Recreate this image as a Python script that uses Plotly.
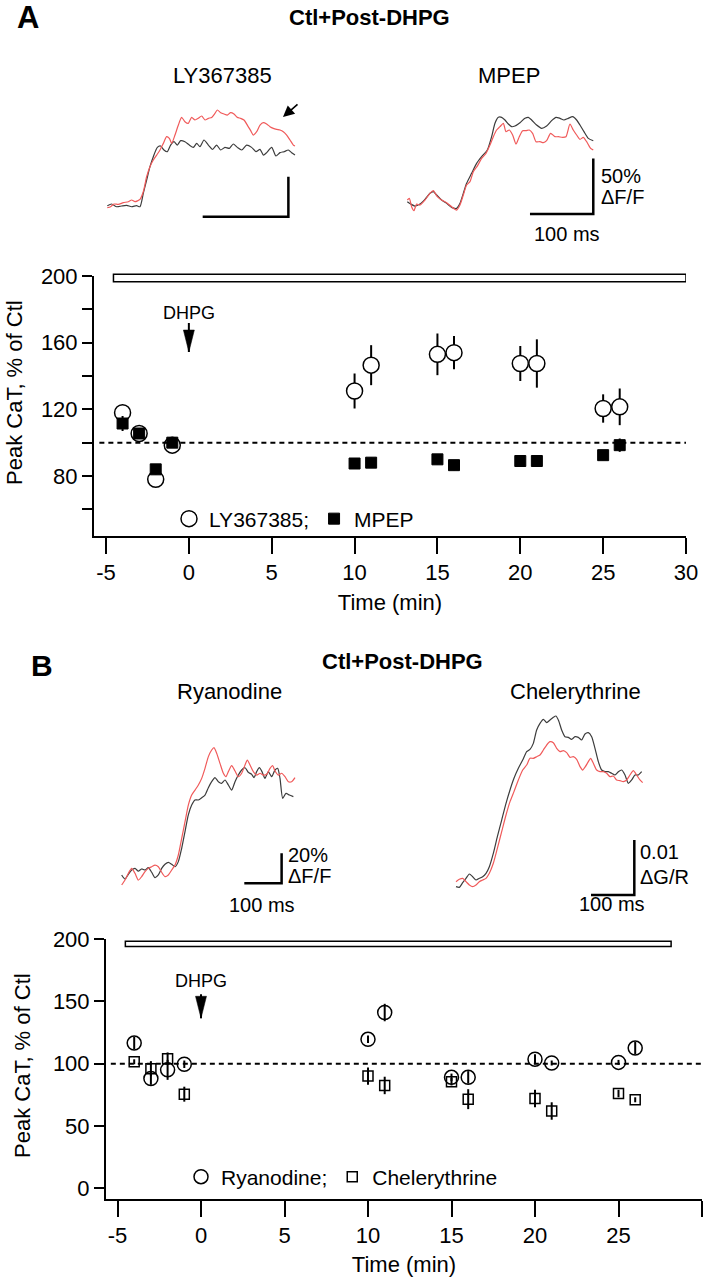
import plotly.graph_objects as go

W, H = 713, 1280
FONT = "Liberation Sans, Arial, sans-serif"

# ---------------- Panel A: summary (peak CaT, % of Ctl) ----------------
time_min = [-4, -3, -2, -1, 10, 11, 15, 16, 20, 21, 25, 26]
ly_mean = [118, 105.5, 78, 98.5, 131, 146.5, 153, 154, 147.5, 147.5, 120.5, 121.5]
ly_sem = [3, 3, 3, 3, 10.5, 12, 12.5, 10, 10.5, 14.5, 8.5, 11]
mpep_mean = [111.5, 105.5, 84, 100, 87.5, 88, 90, 86.5, 89, 89, 92.5, 98.5]
mpep_sem = [4.5, 2, 3, 3, 3, 3, 3, 3, 3, 3, 3, 4]

# ---------------- Panel B: summary ----------------
ry_mean = [116.5, 88, 95, 99.5, 119.5, 141, 89, 89, 103.5, 100.5, 101, 112.5]
ry_sem = [5, 5, 8, 3, 3, 7, 3, 5, 4, 2, 2, 5]
ch_mean = [101.5, 96, 104, 75.5, 90, 82.5, 85.5, 71.5, 72, 62, 76, 71]
ch_sem = [2, 6, 5, 6, 7, 7, 3, 8, 7, 7, 3, 2]

dhpg_time = 0
barA = [-4.55, 30.0, 196.5, 201.0]   # drug bar: t start, t end, low, high
barB = [-4.53, 28.15, 194.0, 198.1]

# ---------------- Example traces (time in ms) ----------------
ly_t_ctl = [0, 5.1, 10.9, 16.7, 22.6, 28.4, 34.2, 38.1, 42.0, 45.9, 49.8, 53.7, 58.4, 62.2, 66.1, 70.0,
            73.9, 77.8, 81.7, 85.6, 90.6, 95.7, 100.4, 104.3, 108.1, 112.8, 117.9, 122.9, 127.6, 132.3, 137.3, 142.4,
            147.0, 151.7, 156.8, 162.6, 168.4, 173.5, 178.2, 182.1, 185.9, 191.8, 196.8, 201.5, 206.2, 211.2, 215.1, 219.0]
ly_ctl = [0, 2.1, -1.3, -0.4, 0.4, -1.3, 0, -1.3, 15.4, 32.1, 48.8, 61.3, 72.9, 74.6, 69.6, 67.5,
          75.8, 80.0, 75.8, 81.3, 80.0, 75.8, 72.9, 77.9, 73.8, 82.1, 75.8, 70.4, 75.8, 69.6, 72.9, 71.7,
          77.1, 72.9, 69.6, 75.8, 72.9, 67.5, 70.4, 63.3, 66.3, 72.9, 62.1, 66.3, 67.5, 69.6, 66.3, 63.3]
ly_t_post = [0, 3.9, 7.8, 12.8, 18.7, 24.5, 28.4, 32.3, 38.1, 42.0, 45.9, 49.8, 53.7, 57.6, 61.5, 65.4,
             69.2, 72.4, 75.1, 79.0, 82.9, 86.7, 90.6, 94.5, 98.4, 102.3, 106.2, 110.1, 114.0, 117.9, 121.8, 125.6,
             128.4, 132.3, 136.2, 140.0, 143.9, 147.8, 151.7, 155.6, 159.5, 163.4, 167.3, 170.4, 174.3, 178.2, 182.1, 185.9,
             189.8, 193.7, 197.6, 201.5, 205.4, 209.3, 213.2, 217.1, 219.0]
ly_post = [-2.5, -1.3, 2.1, 1.7, 3.8, 5.0, 7.1, 5.0, 7.9, 17.5, 36.3, 48.8, 57.1, 63.3, 69.6, 77.9,
           86.3, 84.2, 77.9, 88.3, 100.8, 110.4, 105.0, 102.9, 110.4, 107.1, 109.2, 112.1, 107.1, 109.2, 110.4, 115.4,
           119.6, 116.3, 114.6, 113.3, 116.3, 114.6, 110.4, 109.2, 107.1, 100.8, 93.8, 88.3, 92.5, 100.8, 103.8, 102.1,
           98.8, 96.7, 95.4, 94.6, 92.5, 88.3, 82.1, 75.8, 74.6]

mp_t_ctl = [0, 5.3, 12.1, 20.0, 27.9, 35.8, 41.1, 46.3, 54.2, 62.1, 70.0, 77.9, 83.2, 88.5, 93.7, 101.6,
            109.5, 117.4, 126.4, 133.2, 138.5, 143.8, 149.0, 154.3, 159.6, 164.8, 170.1, 178.0, 185.9, 191.2, 196.4, 204.3,
            212.2, 220.1, 228.0, 234.9, 241.2, 247.5, 254.3, 261.2, 267.5, 272.8, 279.1, 286.0, 293.8]
mp_ctl = [4.5, 2.4, 0.6, 2.4, 6.6, 12.0, 13.5, 10.5, 6.0, 3.0, -0.6, -1.5, 3.0, 12.0, 21.0, 30.0,
          38.9, 44.9, 50.9, 62.9, 74.9, 80.3, 80.3, 77.9, 74.3, 71.9, 72.5, 75.5, 79.4, 80.3, 77.9, 73.4,
          70.4, 72.5, 77.3, 80.3, 79.4, 77.9, 79.4, 80.9, 77.9, 73.4, 67.4, 61.4, 59.3]
mp_t_post = [0, 3.2, 6.8, 10.5, 14.7, 20.0, 27.9, 35.8, 41.1, 47.4, 54.2, 62.1, 70.0, 77.9, 83.2, 88.5,
             93.7, 99.0, 104.3, 110.6, 117.4, 124.3, 130.6, 135.9, 141.1, 146.4, 151.7, 155.9, 161.1, 166.4, 171.7, 176.9,
             182.2, 187.5, 192.7, 198.0, 203.3, 209.6, 214.9, 220.1, 226.4, 233.3, 238.5, 245.4, 250.7, 257.0, 262.2, 267.5,
             272.8, 278.0, 283.3, 289.6, 293.8]
mp_post = [6.0, 7.5, 0, -3.6, 2.4, 1.5, 6.0, 12.0, 14.4, 9.0, 6.0, 3.6, 0, -3.0, 1.5, 10.5,
           19.5, 22.5, 31.4, 36.5, 43.4, 47.9, 55.4, 62.9, 68.9, 71.9, 74.9, 67.4, 68.9, 64.4, 56.3, 62.9,
           68.3, 68.3, 68.9, 65.9, 58.4, 58.4, 57.5, 59.3, 65.9, 62.9, 62.9, 62.3, 62.9, 74.3, 68.9, 64.4,
           60.5, 62.3, 58.4, 52.4, 50.9]

ry_t_ctl = [0, 8.9, 17.9, 26.8, 35.7, 44.7, 53.6, 62.6, 71.5, 80.4, 89.4, 98.3, 107.2, 116.2, 125.1, 134.1,
            143.0, 151.9, 160.9, 169.8, 178.7, 187.7, 196.6, 205.6, 214.5, 223.4, 232.4, 241.3, 250.2, 259.2, 268.1, 277.0,
            286.0, 294.9, 303.9, 312.8, 321.7, 330.7, 339.6, 348.5, 354.8, 361.9, 369.1, 376.2, 384.3, 393.2, 402.2, 411.1,
            418.3, 424.5, 431.7, 440.6, 449.5, 460.3]
ry_ctl = [-2.2, -4.9, -1.8, 1.1, 2.2, 0.4, 1.8, 1.1, 2.7, -0.4, -4.0, -2.2, 2.2, 4.9, 6.2, 4.9,
          3.3, 6.7, 15.6, 26.7, 37.8, 44.4, 47.8, 47.8, 49.3, 51.1, 56.0, 60.0, 62.7, 60.0, 58.9, 61.1,
          57.8, 54.4, 60.0, 64.4, 67.8, 69.3, 66.2, 64.9, 62.7, 66.7, 69.3, 66.7, 62.2, 66.7, 63.3, 67.8,
          68.9, 62.2, 48.9, 52.2, 51.1, 50.0]
ry_t_post = [0, 8.9, 17.9, 26.8, 35.7, 44.7, 53.6, 62.6, 71.5, 80.4, 89.4, 98.3, 107.2, 116.2, 125.1, 134.1,
             143.0, 151.9, 160.9, 169.8, 178.7, 187.7, 196.6, 205.6, 214.5, 223.4, 232.4, 241.3, 247.6, 254.7, 263.6, 272.6,
             279.7, 286.0, 294.9, 303.9, 312.8, 321.7, 330.7, 336.9, 344.1, 353.0, 361.9, 370.9, 379.8, 388.8, 397.7, 404.8,
             411.1, 420.0, 429.0, 437.9, 446.8, 455.8, 464.7]
ry_post = [-8.9, -5.6, -1.1, 2.2, -1.1, -5.6, -3.3, 0, 2.2, 3.3, 4.4, 3.3, -0.4, -3.3, -2.2, 1.1,
           4.4, 11.1, 22.2, 33.3, 44.4, 51.1, 54.4, 57.8, 62.2, 68.9, 76.7, 81.1, 82.7, 78.9, 72.2, 65.6,
           63.3, 66.7, 70.7, 67.1, 63.3, 65.6, 71.1, 74.4, 71.1, 66.7, 64.4, 65.6, 64.4, 64.9, 68.9, 70.7,
           67.1, 64.4, 65.6, 63.3, 60.0, 60.0, 62.7]

# Chelerythrine: dG/R in units of 0.001
ch_t_ctl = [0, 7.7, 15.4, 23.1, 30.8, 38.5, 46.2, 53.9, 61.6, 69.3, 77.0, 86.2, 95.5, 105.5, 115.5, 124.7,
            133.9, 144.0, 154.0, 163.2, 170.9, 178.6, 186.3, 194.0, 201.7, 209.4, 217.1, 224.8, 230.9, 237.1, 244.0, 251.7,
            259.4, 267.1, 274.8, 282.5, 290.2, 297.9, 305.6, 313.3, 321.0, 328.7, 336.4, 344.1, 351.8, 359.5, 367.2, 374.9,
            382.6, 390.3, 398.0, 405.7, 413.4, 421.1, 428.8]
ch_ctl = [-0.61, -0.73, 0.12, 0.91, 1.70, 1.21, 0.61, 0.91, 1.21, 1.82, 3.03, 5.45, 8.48, 11.51, 14.54, 16.97,
          19.09, 20.91, 22.42, 23.94, 24.36, 25.45, 27.88, 29.09, 29.82, 29.21, 29.69, 30.18, 30.42, 29.57, 27.88, 26.66,
          26.54, 26.18, 26.66, 26.54, 26.06, 27.15, 27.39, 26.66, 24.54, 22.12, 20.60, 20.30, 20.30, 20.00, 19.70, 20.30,
          20.60, 19.70, 18.18, 18.79, 19.70, 19.70, 20.30]
ch_t_post = [0, 7.7, 15.4, 23.1, 30.8, 38.5, 46.2, 53.9, 61.6, 69.3, 77.0, 86.2, 95.5, 105.5, 115.5, 124.7,
             133.9, 144.0, 154.0, 163.2, 170.9, 178.6, 186.3, 194.0, 201.7, 209.4, 217.1, 224.8, 232.5, 240.2, 247.9, 255.6,
             263.3, 271.0, 278.7, 286.4, 292.5, 298.7, 305.6, 311.0, 317.2, 324.9, 332.6, 340.3, 348.0, 355.6, 363.3, 371.0,
             378.7, 386.4, 394.1, 401.8, 409.5, 417.2, 424.9, 431.1]
ch_post = [0.30, 0.73, 0.91, 0.30, -0.30, -0.61, -0.30, 0.30, 0.61, 0.91, 1.82, 3.64, 6.36, 9.39, 12.42, 14.85,
           16.67, 18.79, 20.60, 21.51, 22.73, 22.73, 23.03, 23.33, 24.24, 25.15, 25.76, 25.57, 24.54, 23.94, 24.12, 23.76,
           22.91, 23.03, 22.54, 21.21, 20.60, 21.21, 22.12, 22.73, 21.82, 20.60, 20.30, 20.30, 20.00, 19.39, 19.51, 18.79,
           18.67, 18.48, 18.79, 19.70, 20.48, 19.70, 18.79, 18.30]

# scale bar sizes
bar_ms = 100
bar_pct_A = 50
bar_pct_ry = 20
bar_dgr = 10  # 0.01 dG/R in units of 0.001

CTL_COLOR = "#3c3c3c"
POST_COLOR = "#f05a5a"


def px(x):
    return x / W


def py(y):
    return 1 - y / H


fig = go.Figure()

# ---------------- summary plots ----------------
err = lambda a: dict(type="data", array=a, thickness=2, width=0, color="black")

fig.add_trace(go.Scatter(x=time_min, y=ly_mean, error_y=err(ly_sem), mode="markers", name="LY367385;",
                         marker=dict(symbol="circle", size=16, color="white", line=dict(color="black", width=1.5)),
                         xaxis="x", yaxis="y", legend="legend"))
fig.add_trace(go.Scatter(x=time_min, y=mpep_mean, error_y=err(mpep_sem), mode="markers", name="MPEP",
                         marker=dict(symbol="square", size=11, color="black", line=dict(color="black", width=1)),
                         xaxis="x", yaxis="y", legend="legend"))
fig.add_trace(go.Scatter(x=time_min, y=ry_mean, error_y=err(ry_sem), mode="markers", name="Ryanodine;",
                         marker=dict(symbol="circle", size=14, color="rgba(0,0,0,0)", line=dict(color="black", width=1.5)),
                         xaxis="x2", yaxis="y2", legend="legend2"))
fig.add_trace(go.Scatter(x=time_min, y=ch_mean, error_y=err(ch_sem), mode="markers", name="Chelerythrine",
                         marker=dict(symbol="square", size=10, color="rgba(0,0,0,0)", line=dict(color="black", width=1.5)),
                         xaxis="x2", yaxis="y2", legend="legend2"))

# ---------------- inset traces ----------------
insets = [
    # (axis suffix, x0 px, px/ms, y0 px, px/unit, box [X1, X2, Y1, Y2])
    ("3", 107.3, 0.857, 205.7, 0.8, [100, 310, 95, 225]),
    ("4", 407.3, 0.633, 206.7, 1.113, [400, 640, 95, 250]),
    ("5", 121.67, 0.373, 871.67, 1.5, [110, 300, 735, 900]),
    ("6", 456.0, 0.433, 883.33, 5.5, [440, 660, 700, 905]),
]
trace_sets = [
    (ly_t_ctl, ly_ctl, ly_t_post, ly_post),
    (mp_t_ctl, mp_ctl, mp_t_post, mp_post),
    (ry_t_ctl, ry_ctl, ry_t_post, ry_post),
    (ch_t_ctl, ch_ctl, ch_t_post, ch_post),
]
# scale bar corner (t, v) and sizes
scalebars = [
    (211.3, -13.75, bar_ms, bar_pct_A),
    (293.8, -6.6, bar_ms, bar_pct_A),
    (428.8, -7.8, bar_ms, bar_pct_ry),
    (411.8, -2.12, bar_ms, bar_dgr),
]

layout_axes = {}
for (suf, x0, sx, y0, sy, box), (tc, vc, tp, vp), (bx, by, bw, bh) in zip(insets, trace_sets, scalebars):
    X1, X2, Y1, Y2 = box
    layout_axes["xaxis" + suf] = dict(domain=[px(X1), px(X2)], range=[(X1 - x0) / sx, (X2 - x0) / sx],
                                      visible=False, anchor="y" + suf, automargin=False)
    layout_axes["yaxis" + suf] = dict(domain=[py(Y2), py(Y1)], range=[(y0 - Y2) / sy, (y0 - Y1) / sy],
                                      visible=False, anchor="x" + suf, automargin=False)
    fig.add_trace(go.Scatter(x=tc, y=vc, mode="lines", line=dict(color=CTL_COLOR, width=1.2, shape="spline", smoothing=0.6),
                             xaxis="x" + suf, yaxis="y" + suf, showlegend=False, hoverinfo="skip"))
    fig.add_trace(go.Scatter(x=tp, y=vp, mode="lines", line=dict(color=POST_COLOR, width=1.2, shape="spline", smoothing=0.6),
                             xaxis="x" + suf, yaxis="y" + suf, showlegend=False, hoverinfo="skip"))
    fig.add_trace(go.Scatter(x=[bx - bw, bx, bx], y=[by, by, by + bh], mode="lines",
                             line=dict(color="black", width=2.5), xaxis="x" + suf, yaxis="y" + suf,
                             showlegend=False, hoverinfo="skip"))

xt = [-5, 0, 5, 10, 15, 20, 25, 30]
xt_text = ["-5", "0", "5", "10", "15", "20", "25", "30"]
ax_common = dict(showline=True, linecolor="black", linewidth=2, ticks="outside", tickwidth=2, automargin=False,
                 tickcolor="black", showgrid=False, zeroline=False, tickfont=dict(size=22, family=FONT, color="black"))

yA_vals = [60, 80, 100, 120, 140, 160, 180, 200]
yA_text = ["", "80", "", "120", "", "160", "", "200"]
yA_range = [44, 200]
yB_vals = [0, 50, 100, 150, 200]

fig.update_layout(
    width=W, height=H, margin=dict(l=0, r=0, t=0, b=0, autoexpand=False),
    paper_bgcolor="white", plot_bgcolor="rgba(0,0,0,0)",
    font=dict(family=FONT, color="black"),
    xaxis=dict(domain=[px(94), px(686)], range=[-5 - 12 / 16.571, 30], tickvals=xt, ticktext=xt_text, ticklen=16,
               anchor="y", title=dict(text="Time (min)", font=dict(size=22), standoff=10), **ax_common),
    yaxis=dict(domain=[py(536), py(276)], range=yA_range, tickvals=yA_vals, ticktext=yA_text, ticklen=10,
               anchor="x", **ax_common),
    xaxis2=dict(domain=[px(106), px(702)], range=[-5 - 11.5 / 16.7, 30], tickvals=xt, ticktext=xt_text, ticklen=16,
                anchor="y2", title=dict(text="Time (min)", font=dict(size=22), standoff=9), **ax_common),
    yaxis2=dict(domain=[py(1199), py(939)], range=[-8.6, 200], tickvals=yB_vals, ticklen=10,
                anchor="x2", **ax_common),
    legend=dict(x=px(169), y=py(519), xanchor="left", yanchor="middle", orientation="h",
                font=dict(size=21, family=FONT), bgcolor="rgba(0,0,0,0)"),
    legend2=dict(x=px(181), y=py(1177), xanchor="left", yanchor="middle", orientation="h",
                 font=dict(size=21, family=FONT), bgcolor="rgba(0,0,0,0)"),
    **layout_axes,
)

shapes = []
# drug application bars (panel A bar rises slightly above the top of its axis -> use domain reference)
spanA = yA_range[1] - yA_range[0]
shapes.append(dict(type="rect", xref="x", yref="y domain", x0=barA[0], x1=barA[1],
                   y0=(barA[2] - yA_range[0]) / spanA, y1=(barA[3] - yA_range[0]) / spanA,
                   line=dict(color="black", width=1.5), fillcolor="white"))
shapes.append(dict(type="rect", xref="x2", yref="y2", x0=barB[0], x1=barB[1], y0=barB[2], y1=barB[3],
                   line=dict(color="black", width=1.5), fillcolor="white"))
# 100 % reference lines
for xr, yr in [("x", "y"), ("x2", "y2")]:
    shapes.append(dict(type="line", xref=xr, yref=yr, x0=-5.4, x1=30, y0=100, y1=100,
                       line=dict(color="black", width=2, dash="5px,4px")))
# DHPG arrows: (axes, top, tip)
for xr, yr, top, tip in [("x", "y", 171.8, 154.4), ("x2", "y2", 155.6, 136.4)]:
    shapes.append(dict(type="line", xref=xr, yref=yr, x0=dhpg_time, x1=dhpg_time, y0=top, y1=tip,
                       line=dict(color="black", width=2)))
    shapes.append(dict(type="path", xref=xr, yref=yr, xsizemode="pixel", ysizemode="pixel",
                       xanchor=dhpg_time, yanchor=tip, path="M -5.5,22 L 5.5,22 L 0,0 Z",
                       fillcolor="black", line=dict(color="black", width=0.5)))
fig.update_layout(shapes=shapes)


def ann(text, x, y, size, xanchor="center", angle=0, bold=False):
    return dict(text=("<b>%s</b>" % text) if bold else text, x=px(x), y=py(y), xref="paper", yref="paper",
                showarrow=False, xanchor=xanchor, yanchor="middle", textangle=angle,
                font=dict(size=size, family=FONT, color="black"))


annotations = [
    ann("A", 28, 17, 31, bold=True),
    ann("Ctl+Post-DHPG", 369, 18, 22, bold=True),
    ann("LY367385", 222, 75, 22),
    ann("MPEP", 509, 75, 22),
    ann("50%", 599, 176, 20, xanchor="left"),
    ann("ΔF/F", 599, 197, 20, xanchor="left"),
    ann("100 ms", 567, 234, 20),
    ann("B", 42, 665, 30, bold=True),
    ann("Ctl+Post-DHPG", 402, 661, 22, bold=True),
    ann("Ryanodine", 229, 691, 22),
    ann("Chelerythrine", 575, 691, 22),
    ann("20%", 286, 855, 20, xanchor="left"),
    ann("ΔF/F", 286, 876, 20, xanchor="left"),
    ann("100 ms", 262, 905, 20),
    ann("0.01", 638, 852, 20, xanchor="left"),
    ann("ΔG/R", 638, 877, 20, xanchor="left"),
    ann("100 ms", 612, 904, 20),
    ann("Peak CaT, % of Ctl", 14, 393, 22, angle=-90),
    ann("Peak CaT, % of Ctl", 22, 1066, 22, angle=-90),
    dict(text="DHPG", x=dhpg_time, y=178, xref="x", yref="y", showarrow=False,
         font=dict(size=18, family=FONT, color="black"), yanchor="middle"),
    dict(text="DHPG", x=dhpg_time, y=166, xref="x2", yref="y2", showarrow=False,
         font=dict(size=18, family=FONT, color="black"), yanchor="middle"),
    # arrow pointing at the post-DHPG trace in LY367385 panel
    dict(text="", x=px(283), y=py(117), xref="paper", yref="paper", showarrow=True,
         ax=16, ay=-14, arrowhead=2, arrowsize=1.4, arrowwidth=1.6, arrowcolor="black"),
]
fig.update_layout(annotations=annotations)

fig.write_html("out.html", config={"displayModeBar": False},
               post_script="document.body.style.margin='0';")
